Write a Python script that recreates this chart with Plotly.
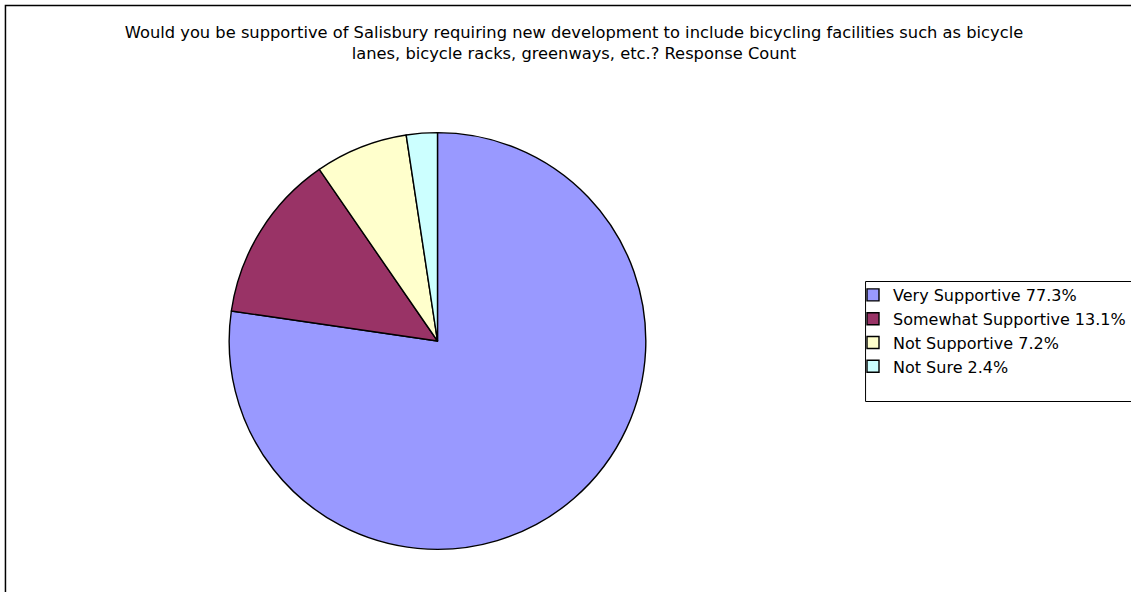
import plotly.graph_objects as go

labels = ["Very Supportive 77.3%", "Somewhat Supportive 13.1%", "Not Supportive 7.2%", "Not Sure 2.4%"]
values = [77.3, 13.1, 7.2, 2.4]
colors = ["#9999FF", "#993366", "#FFFFCC", "#CCFFFF"]
title_text = ("Would you be supportive of Salisbury requiring new development to include bicycling facilities such as bicycle"
              "<br>lanes, bicycle racks, greenways, etc.? Response Count")

W, H = 1131, 592
cx, cy, r = 441, 341, 210
FONT = "DejaVu Sans, Liberation Sans, Arial, sans-serif"

fig = go.Figure(go.Pie(
    labels=labels, values=values, sort=False, direction="clockwise", rotation=0,
    marker=dict(colors=colors, line=dict(color="black", width=1.4)),
    textinfo="none", hoverinfo="label",
    domain=dict(x=[(cx - r) / W, (cx + r) / W], y=[1 - (cy + r) / H, 1 - (cy - r) / H]),
))

fig.update_layout(
    width=W, height=H, margin=dict(l=0, r=0, t=0, b=0),
    paper_bgcolor="white", plot_bgcolor="white",
    font=dict(family=FONT, color="black", size=16),
    title=dict(text=title_text, x=574 / W, xanchor="center", y=1 - 38 / H, yanchor="top",
               font=dict(size=16.3, color="black", family=FONT)),
    legend=dict(x=860 / W, xanchor="left", y=1 - 278 / H, yanchor="top",
                borderwidth=0, bgcolor="rgba(0,0,0,0)",
                font=dict(size=16, color="black", family=FONT), traceorder="normal"),
    shapes=[
        dict(type="rect", xref="paper", yref="paper", x0=5.5 / W, x1=1.2, y0=-0.2, y1=1 - 5.5 / H,
             line=dict(color="black", width=1.5), fillcolor="rgba(0,0,0,0)", layer="below"),
        dict(type="rect", xref="paper", yref="paper", x0=872.5 / W, x1=1.2, y0=1 - 401.5 / H, y1=1 - 281.5 / H,
             line=dict(color="black", width=1), fillcolor="rgba(0,0,0,0)", layer="below"),
    ],
)

fig.write_html("out.html", config={"displayModeBar": False},
               post_script="document.body.style.margin='0';")
